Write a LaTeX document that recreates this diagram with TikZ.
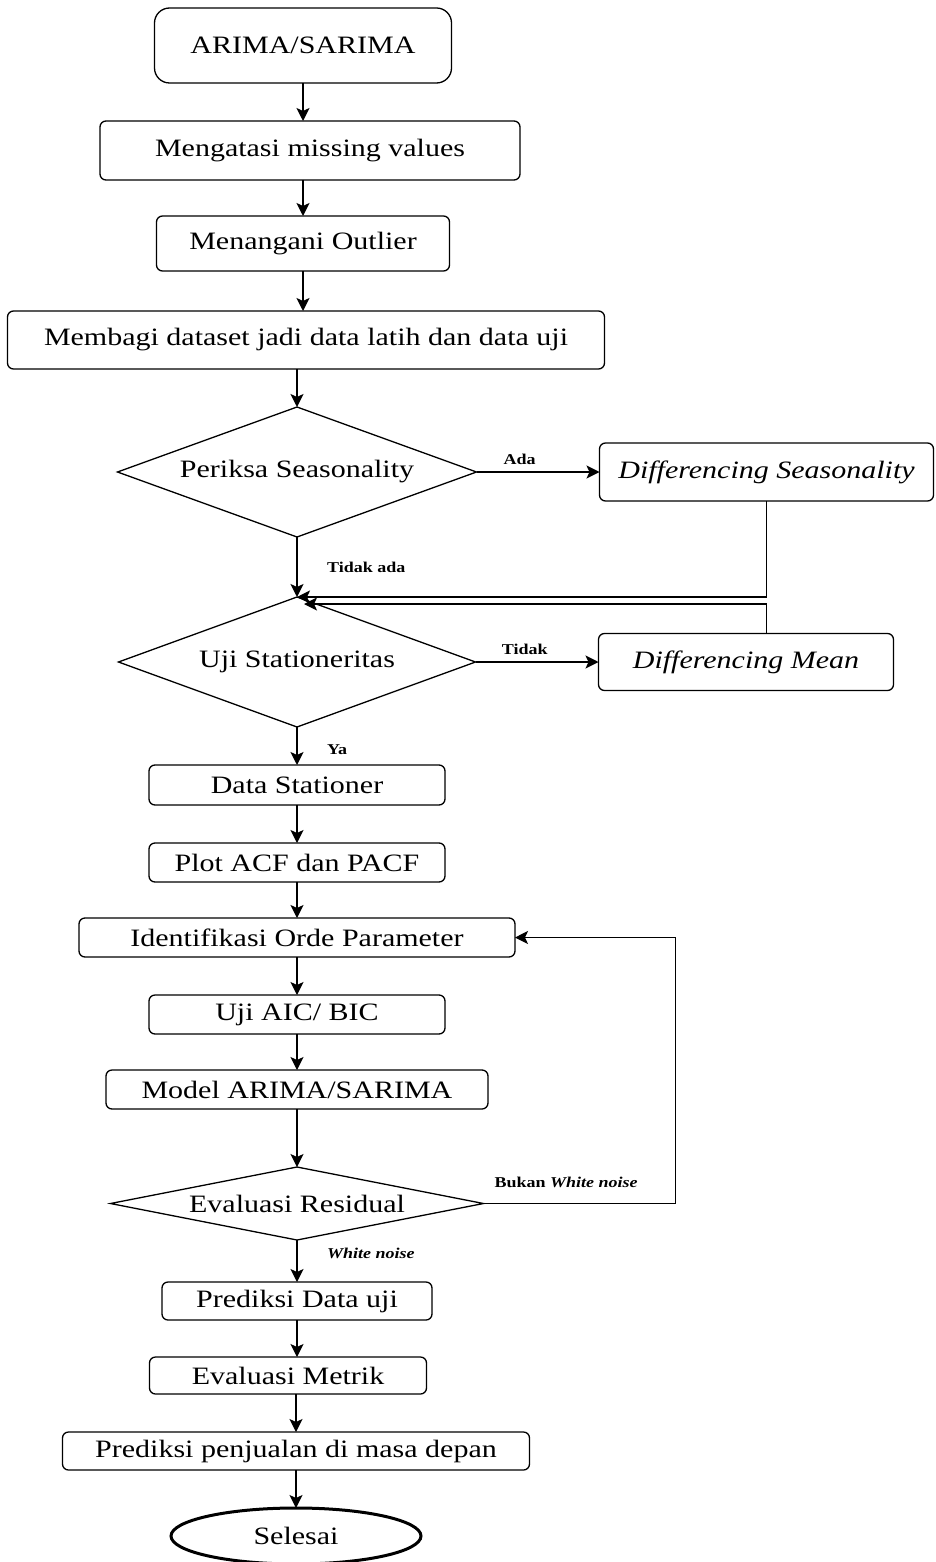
\documentclass[tikz,border=0pt]{standalone}
\usepackage{fontspec}
\setmainfont{Liberation Serif}[FakeStretch=1.2]
\usetikzlibrary{positioning,shapes.geometric,arrows.meta,calc}

\begin{document}
\begin{tikzpicture}[
    x=1pt, y=1pt,
    font=\fontsize{25}{30}\selectfont,
    block/.style={rectangle, draw, fill=white, rounded corners=6pt, line width=1.3pt, inner sep=0pt, outer sep=0pt, text centered},
    decision/.style={diamond, draw, fill=white, line width=1.3pt, inner sep=0pt, outer sep=0pt, aspect=2.7},
    terminal/.style={ellipse, draw, fill=white, line width=3pt, inner sep=0pt, outer sep=0pt},
    arrow/.style={-{Stealth[length=13pt, width=13pt, inset=3pt]}, line width=1.6pt},
    signal/.style={font=\fontsize{15}{18}\selectfont\bfseries}
]
\useasboundingbox (0,0) rectangle (936,-1562);

% Main column
\node[block, minimum width=297pt, minimum height=75pt, rounded corners=15pt] (start) at (303,-45.5) {ARIMA/SARIMA};
\node[block, below=38pt of start, xshift=7pt, minimum width=420pt, minimum height=59pt] (missing) {Mengatasi missing values};
\node[block, below=36pt of missing, xshift=-7pt, minimum width=293pt, minimum height=55pt] (outlier) {Menangani Outlier};
\node[block, below=40pt of outlier, xshift=3pt, minimum width=597pt, minimum height=58pt] (split) {Membagi dataset jadi data latih dan data uji};
\node[decision, below=38pt of split, xshift=-9pt, minimum width=359pt, minimum height=130pt] (seas) {Periksa Seasonality};
\node[decision, below=60pt of seas, minimum width=357pt, minimum height=130pt] (stat) {Uji Stationeritas};
\node[block, below=38pt of stat, minimum width=296pt, minimum height=40pt] (stationer) {Data Stationer};
\node[block, below=38pt of stationer, minimum width=296pt, minimum height=39pt] (acf) {Plot ACF dan PACF};
\node[block, below=36pt of acf, minimum width=436pt, minimum height=39pt] (orde) {Identifikasi Orde Parameter};
\node[block, below=38pt of orde, minimum width=296pt, minimum height=39pt] (aic) {Uji AIC/ BIC};
\node[block, below=36pt of aic, minimum width=382pt, minimum height=39pt] (model) {Model ARIMA/SARIMA};
\node[decision, below=58pt of model, minimum width=373pt, minimum height=73pt, aspect=5] (resid) {Evaluasi Residual};
\node[block, below=42pt of resid, minimum width=270pt, minimum height=38pt] (pred) {Prediksi Data uji};
\node[block, below=37pt of pred, xshift=-9pt, minimum width=277pt, minimum height=37pt] (metric) {Evaluasi Metrik};
\node[block, below=38pt of metric, xshift=8pt, minimum width=467pt, minimum height=38pt] (future) {Prediksi penjualan di masa depan};
\node[terminal, below=38pt of future, minimum width=250pt, minimum height=56pt] (finish) {Selesai};

% Side blocks
\node[block, right=123pt of seas, minimum width=334pt, minimum height=58pt, font=\fontsize{25}{30}\selectfont\itshape] (dseas) {Differencing Seasonality};
\node[block, right=123pt of stat, minimum width=295pt, minimum height=57pt, font=\fontsize{25}{30}\selectfont\itshape] (dmean) {Differencing Mean};

\coordinate (meanin) at ($(stat.north)+(7,-7)$);

% Forward path
\draw[arrow] (start.south) -- (start.south |- missing.north);
\draw[arrow] (outlier.north |- missing.south) -- (outlier.north);
\draw[arrow] (outlier.south) -- (outlier.south |- split.north);
\draw[arrow] (seas.north |- split.south) -- (seas.north);
\draw[arrow] (seas) -- node[right=26pt, signal] {Tidak ada} (stat);
\draw[arrow] (stat) -- node[right=26pt, signal, pos=0.6] {Ya} (stationer);
\draw[arrow] (stationer) -- (acf);
\draw[arrow] (acf) -- (orde);
\draw[arrow] (orde) -- (aic);
\draw[arrow] (aic) -- (model);
\draw[arrow] (model) -- (resid);
\draw[arrow] (resid) -- node[right=26pt, signal, pos=0.33] {\textit{White noise}} (pred);
\draw[arrow] (pred.south) -- (pred.south |- metric.north);
\draw[arrow] (future.north |- metric.south) -- (future.north);
\draw[arrow] (future.south) -- (future.south |- finish.north);

% Differencing branches
\draw[arrow] (seas) -- node[above=3pt, signal, pos=0.35] {Ada} (dseas);
\draw[arrow] (stat) -- node[above=3pt, signal, pos=0.4] {Tidak} (dmean);
\draw[arrow] (dseas.south) |- (stat.north);
\draw[arrow] (dseas.south |- dmean.north) |- (meanin);

% Residual feedback
\draw[arrow] (resid.east) -- node[above=12pt, signal, pos=0.43] {Bukan \textit{White noise}} ++(192,0) |- (orde.east);

\end{tikzpicture}
\end{document}
